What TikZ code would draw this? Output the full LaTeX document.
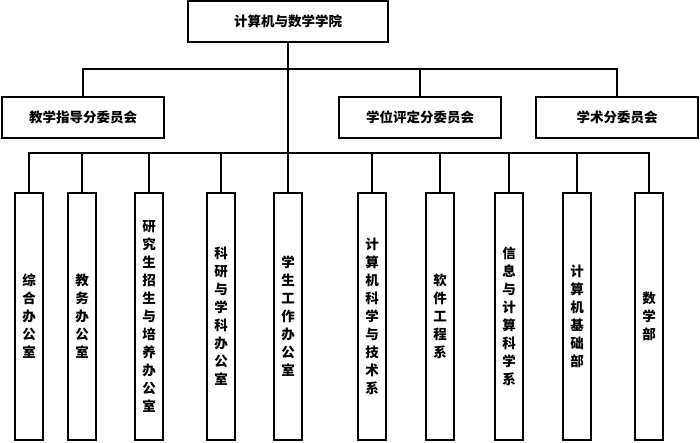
\documentclass[tikz,border=0pt]{standalone}
\usepackage{fontspec}
\newfontfamily\cjk{Noto Sans CJK SC}
\begin{document}
\begin{tikzpicture}[x=1pt,y=-1pt,
	box/.style={draw,line width=2.4pt,inner sep=0pt,
		font=\cjk\bfseries\fontsize{13.5}{18}\selectfont},
	head/.style={box,minimum width=200pt,minimum height=41pt},
	board/.style={box,minimum width=162pt,minimum height=41pt},
	leaf/.style={box,minimum width=28pt,minimum height=247pt,align=center}]
	\useasboundingbox (0,0) rectangle (700,442);

	% College
	\node[head] (college) at (288,21.5) {计算机与数学学院};

	% Committees
	\node[board] (teach) at (83,117.5) {教学指导分委员会};
	\node[board] (degree) at (420,117.5) {学位评定分委员会};
	\node[board] (acad) at (617,117.5) {学术分委员会};

	% Offices and departments
	\node[leaf] (l1) at (29,316.5) {综\\合\\办\\公\\室};
	\node[leaf] (l2) at (82,316.5) {教\\务\\办\\公\\室};
	\node[leaf] (l3) at (149,316.5) {研\\究\\生\\招\\生\\与\\培\\养\\办\\公\\室};
	\node[leaf] (l4) at (221,316.5) {科\\研\\与\\学\\科\\办\\公\\室};
	\node[leaf] (l5) at (288,316.5) {学\\生\\工\\作\\办\\公\\室};
	\node[leaf] (l6) at (372,316.5) {计\\算\\机\\科\\学\\与\\技\\术\\系};
	\node[leaf] (l7) at (440,316.5) {软\\件\\工\\程\\系};
	\node[leaf] (l8) at (509,316.5) {信\\息\\与\\计\\算\\科\\学\\系};
	\node[leaf] (l9) at (577,316.5) {计\\算\\机\\基\\础\\部};
	\node[leaf] (l10) at (649,316.5) {数\\学\\部};

	% Bus lines
	\coordinate (busA) at (0,69);
	\coordinate (busB) at (0,153);

	\draw[line width=2.4pt] (college.south) -- (college.south |- busB);
	\draw[line width=2.4pt] (teach.north) -- (teach.north |- busA) -| (acad.north);
	\draw[line width=2.4pt] (degree.north) -- (degree.north |- busA);
	\draw[line width=2.4pt] (l1.north) -- (l1.north |- busB) -| (l10.north);
	\foreach \i in {2,...,9}
		\draw[line width=2.4pt] (l\i.north) -- (l\i.north |- busB);

\end{tikzpicture}
\end{document}
